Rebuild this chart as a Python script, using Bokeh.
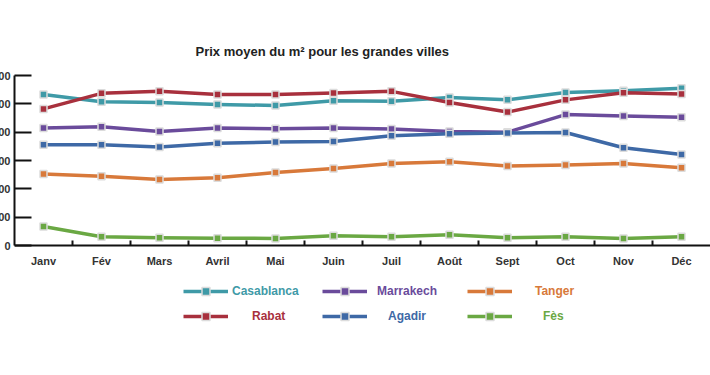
from bokeh.plotting import figure
from bokeh.models import Range1d, FixedTicker, Legend, LegendItem
from bokeh.embed import file_html
from bokeh.resources import INLINE

months = ["Janv", "Fév", "Mars", "Avril", "Mai", "Juin", "Juil", "Août", "Sept", "Oct", "Nov", "Déc"]

casablanca = [10660, 10140, 10100, 9960, 9880, 10220, 10180, 10440, 10280, 10800, 10920, 11100]
rabat      = [9640, 10740, 10880, 10660, 10660, 10760, 10880, 10100, 9420, 10280, 10780, 10700]
marrakech  = [8300, 8380, 8040, 8300, 8240, 8300, 8220, 8040, 8000, 9240, 9140, 9060]
agadir     = [7120, 7120, 6960, 7220, 7300, 7340, 7740, 7880, 7940, 7980, 6900, 6420]
tanger     = [5040, 4880, 4660, 4780, 5160, 5440, 5780, 5920, 5620, 5680, 5780, 5480]
fes        = [1340, 620, 540, 520, 500, 680, 620, 760, 540, 620, 500, 620]

y_ticks = [0, 2000, 4000, 6000, 8000, 10000, 12000]

series_names = ["Casablanca", "Rabat", "Marrakech", "Agadir", "Tanger", "Fès"]
series_values = [casablanca, rabat, marrakech, agadir, tanger, fes]
series_colors = ["#3f9aa7", "#a8303d", "#6a4b9b", "#3e69a6", "#d8793a", "#6aa843"]

FONT = "Liberation Sans"

# layout (pixels)
PLOT_H = 170          # height of the value area (0 .. 12000)
LEGEND_H = 90         # extra room below the value area for the legend
Y_MAX = y_ticks[-1]
Y_MIN = -Y_MAX * LEGEND_H / PLOT_H

xs = [i + 0.5 for i in range(len(months))]

p = figure(
    frame_width=696, frame_height=PLOT_H + LEGEND_H,
    x_range=Range1d(0, len(months)), y_range=Range1d(Y_MIN, Y_MAX),
    output_backend="svg", toolbar_location=None,
    min_border_left=50, min_border_right=0, min_border_top=75, min_border_bottom=5,
    styles={"margin-left": "-36px"},
)
p.outline_line_color = None
p.grid.visible = False
p.background_fill_color = "white"
p.border_fill_color = "white"

p.title.text = "Prix moyen du m² pour les grandes villes"
p.title.align = "left"
p.title.offset = 181
p.title.text_font = FONT
p.title.text_font_style = "bold"
p.title.text_font_size = "13px"
p.title.text_color = "#222222"
p.title.standoff = 34

# x axis drawn at value 0: labels at month centres, ticks at boundaries
xa = p.xaxis[0]
xa.fixed_location = 0
xa.ticker = FixedTicker(ticks=xs, minor_ticks=list(range(1, len(months))))
xa.major_label_overrides = {x: m for x, m in zip(xs, months)}
xa.major_tick_line_color = None
xa.minor_tick_in = 5
xa.minor_tick_out = 0
xa.minor_tick_line_width = 2
xa.minor_tick_line_color = "#111111"
xa.axis_line_width = 2
xa.axis_line_color = "#111111"
xa.major_label_text_font = FONT
xa.major_label_text_font_style = "bold"
xa.major_label_text_font_size = "11px"
xa.major_label_text_color = "#333333"
xa.major_label_standoff = 3

ya = p.yaxis[0]
ya.bounds = (0, Y_MAX)
ya.ticker = FixedTicker(ticks=y_ticks)
ya.minor_tick_line_color = None
ya.major_tick_in = 17
ya.major_tick_out = 0
ya.major_tick_line_width = 2
ya.major_tick_line_color = "#111111"
ya.axis_line_width = 2
ya.axis_line_color = "#111111"
ya.major_label_text_font = FONT
ya.major_label_text_font_style = "bold"
ya.major_label_text_font_size = "11px"
ya.major_label_text_color = "#333333"
ya.major_label_standoff = 4

renderers = []
for name, vals, col in zip(series_names, series_values, series_colors):
    lr = p.line(xs, vals, line_color=col, line_width=3.5, line_join="round")
    sr = p.scatter(xs, vals, marker="square", size=7, fill_color=col,
                   line_color="#dcdcdc", line_width=1.5)
    renderers.append((name, col, lr, sr))

# legend: 3 columns x 2 rows, labels centred under each other in their column
col_x = [169, 308, 453]
row_y = [34, 9]
label_gap = [4, 24, 10, 21, 23, 31]
for idx, (name, col, lr, sr) in enumerate(renderers):
    c, r = idx // 2, idx % 2
    leg = Legend(
        items=[LegendItem(label=name, renderers=[lr, sr])],
        location=(col_x[c], row_y[r]),
        orientation="vertical",
        glyph_width=45, glyph_height=20, label_height=20,
        label_standoff=label_gap[idx],
        label_text_font=FONT, label_text_font_style="bold",
        label_text_font_size="12px", label_text_color=col,
        border_line_color=None, background_fill_alpha=0,
        padding=0, margin=0, spacing=0,
    )
    p.add_layout(leg, "center")

open("out.html", "w").write(file_html(p, INLINE))
